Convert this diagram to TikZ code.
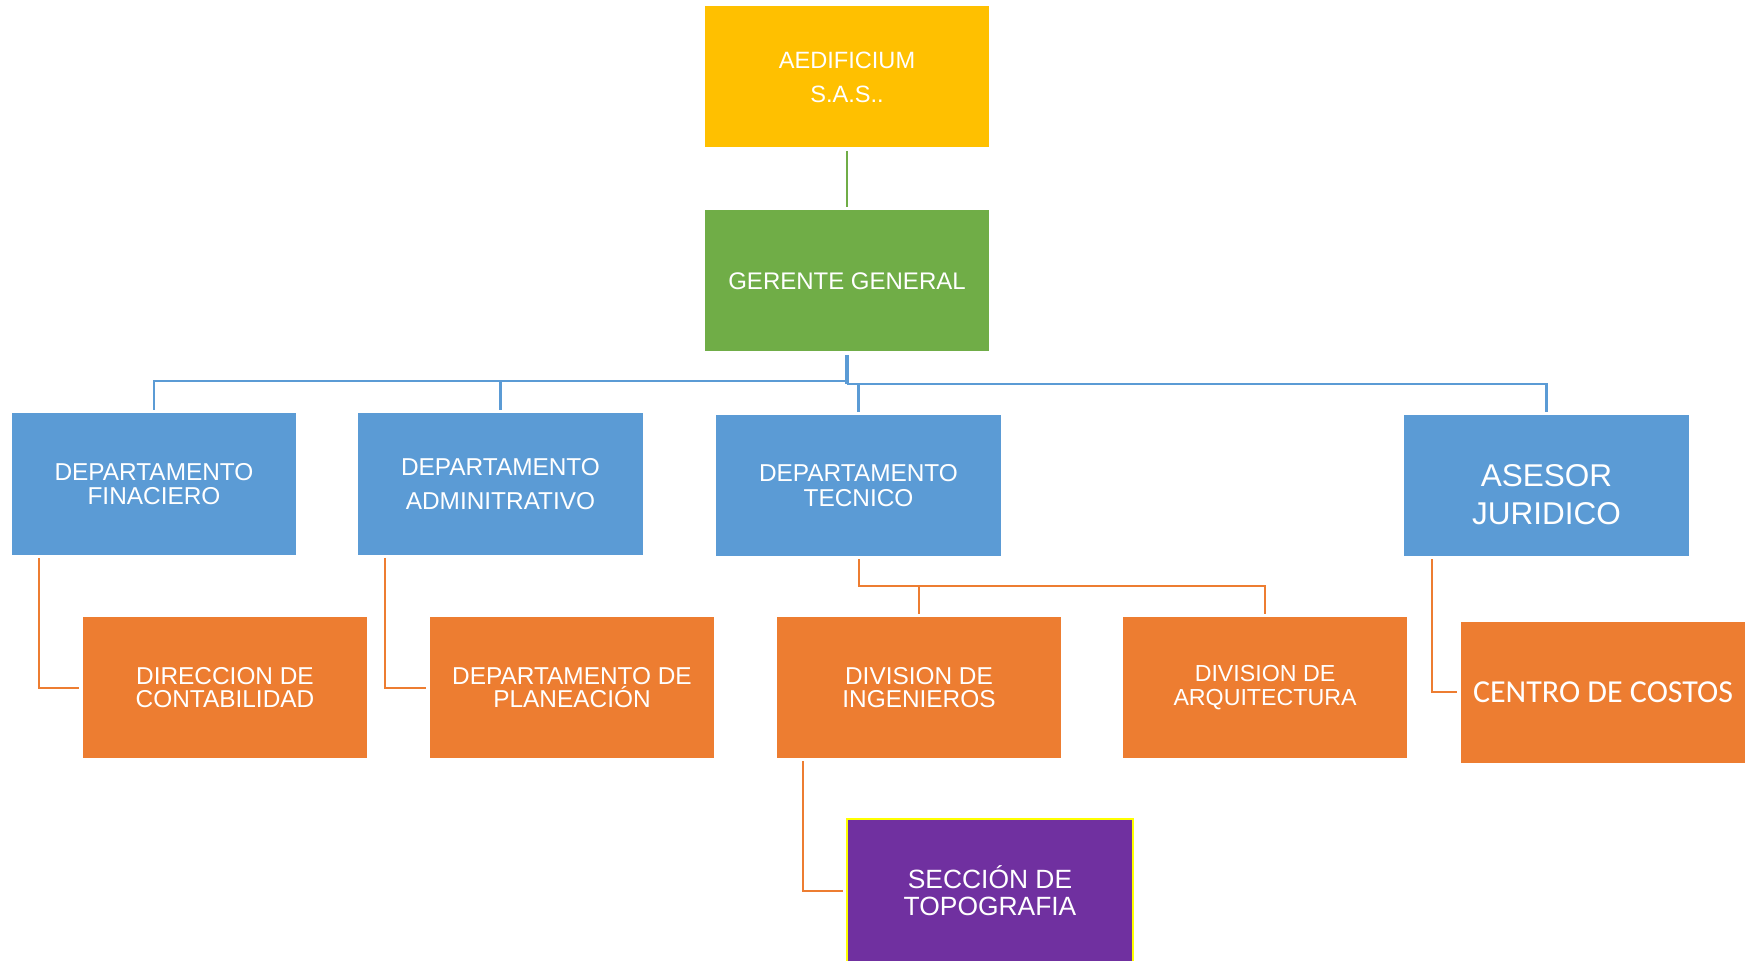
\documentclass[tikz,border=0pt]{standalone}
\usepackage{fontspec}
\setmainfont{Liberation Sans}
\newfontfamily\calib{Carlito}
\usetikzlibrary{calc}
\definecolor{cgold}{HTML}{FFC000}
\definecolor{cgreen}{HTML}{70AD47}
\definecolor{cblue}{HTML}{5B9BD5}
\definecolor{corange}{HTML}{ED7D31}
\definecolor{cpurple}{HTML}{7030A0}
\definecolor{cyell}{HTML}{FFFF00}
\begin{document}
\begin{tikzpicture}[x=0.5pt,y=-0.5pt,
  box/.style={rectangle, inner sep=0pt, minimum width=142.25pt, minimum height=70.5pt, align=center, text=white},
  bluebox/.style={box, fill=cblue},
  orbox/.style={box, fill=corange},
  bline/.style={draw=cblue, line width=1.1pt},
  oline/.style={draw=corange, line width=1pt},
  gline/.style={draw=cgreen, line width=1pt},
  f12/.style={font=\fontsize{11.8}{17}\selectfont},
  ftight/.style={font=\fontsize{12.2}{12.3}\selectfont},
  fwide/.style={font=\fontsize{12.2}{16.8}\selectfont},
  forg/.style={font=\fontsize{12.2}{11.8}\selectfont}
]
\useasboundingbox (0,0) rectangle (1748,961);
% top
\node[box, fill=cgold, f12] (aed) at (847,77) {AEDIFICIUM\\S.A.S..};
\node[box, fill=cgreen, font=\fontsize{12}{14}\selectfont] (ger) at (847,281) {GERENTE GENERAL};
% level 2
\node[bluebox, ftight] (fin) at (154,484) {DEPARTAMENTO\\FINACIERO};
\node[bluebox, fwide] (adm) at (500.5,484) {DEPARTAMENTO\\ADMINITRATIVO};
\node[bluebox, font=\fontsize{12.2}{12.8}\selectfont] (tec) at (858.5,485.5) {DEPARTAMENTO\\TECNICO};
\node[bluebox, label={[text=white, align=center, yshift=-4.5pt, font=\fontsize{15.75}{19}\selectfont]center:ASESOR\\JURIDICO}] (ase) at (1546.5,485.5) {};
% level 3
\node[orbox, forg] (dir) at (225,687.5) {DIRECCION DE\\CONTABILIDAD};
\node[orbox, forg] (pla) at (572,687.5) {DEPARTAMENTO DE\\PLANEACIÓN};
\node[orbox, forg] (ing) at (919,687.5) {DIVISION DE\\INGENIEROS};
\node[orbox, font=\fontsize{11.6}{11.8}\selectfont] (arq) at (1265,687.5) {DIVISION DE\\ARQUITECTURA};
\node[orbox, font=\calib\fontsize{16}{18}\selectfont] (cen) at (1603,692) {CENTRO DE COSTOS};
% level 4
\node[rectangle, inner sep=0pt, minimum width=143pt, minimum height=71.5pt, fill=cpurple, draw=cyell, line width=1pt, align=center, text=white, font=\fontsize{13.2}{13.4}\selectfont] (top) at (990,890.5) {SECCIÓN DE\\TOPOGRAFIA};
% helper coordinates
\coordinate (hl) at (0,381);
\coordinate (hr) at (0,384);
\coordinate (ot) at (0,586);
% green
\draw[gline] ([shift={(0,3)}]aed.south) -- ([shift={(0,-3)}]ger.north);
% blue tree
\draw[bline, line width=1.6pt] ([shift={(0,3)}]ger.south) -- (ger.south |- hr);
\draw[bline] (ger.south |- hl) -| ([shift={(0,-3)}]fin.north);
\draw[bline] (ger.south |- hl) -| ([shift={(0,-3)}]adm.north);
\draw[bline] (ger.south |- hr) -| ([shift={(0,-3)}]tec.north);
\draw[bline] (ger.south |- hr) -| ([shift={(0,-3)}]ase.north);
% orange connectors
\draw[oline] ([shift={(27.5,3)}]fin.south west) |- ([shift={(-3,0)}]dir.west);
\draw[oline] ([shift={(27,3)}]adm.south west) |- ([shift={(-3,0)}]pla.west);
\draw[oline] ([shift={(0,3)}]tec.south) -- (tec.south |- ot) -| ([shift={(0,-3)}]arq.north);
\draw[oline] (ing.north |- ot) -- ([shift={(0,-3)}]ing.north);
\draw[oline] ([shift={(27,3)}]ing.south west) |- ([shift={(-3,0)}]top.west);
\draw[oline] ([shift={(28,3)}]ase.south west) |- ([shift={(-3,0)}]cen.west);
\end{tikzpicture}
\end{document}
